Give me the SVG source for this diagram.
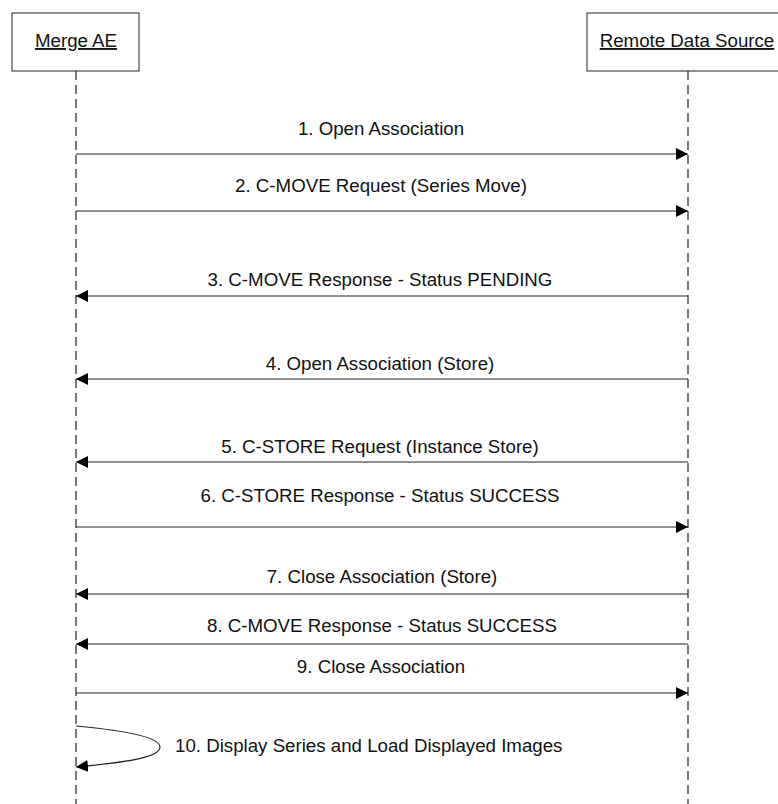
<svg xmlns="http://www.w3.org/2000/svg" width="778" height="804" viewBox="0 0 778 804">
<style>
  .box { fill: #ffffff; stroke: #222222; stroke-width: 1; }
  .life { stroke: #222222; stroke-width: 1.2; stroke-dasharray: 9 5; fill: none; }
  .msg { stroke: #222222; stroke-width: 1.2; fill: none; }
  .t { font-family: "Liberation Sans", Arial, sans-serif; font-size: 18.7px; fill: #111111; }
  .lbl { text-anchor: middle; }
</style>
<defs>
  <marker id="arr" viewBox="0 0 12 12" refX="12" refY="6" markerWidth="12" markerHeight="12" markerUnits="userSpaceOnUse" orient="auto">
    <path d="M0,0 L12,6 L0,12 Z" fill="#000000"/>
  </marker>
</defs>
<rect width="778" height="804" fill="#ffffff"/>
<g id="merge-ae">
  <rect class="box" x="12" y="13" width="127" height="58"/>
  <text class="t lbl" x="76" y="47" text-decoration="underline">Merge AE</text>
  <line class="life" x1="76" y1="71" x2="76" y2="804"/>
</g>
<g id="remote-data-source">
  <rect class="box" x="587" y="13" width="202" height="58"/>
  <text class="t lbl" x="687" y="47" text-decoration="underline">Remote Data Source</text>
  <line class="life" x1="688" y1="71" x2="688" y2="804"/>
</g>
<g id="connectors">
  <line class="msg" x1="76" y1="154" x2="688" y2="154" marker-end="url(#arr)"/>
  <line class="msg" x1="76" y1="211" x2="688" y2="211" marker-end="url(#arr)"/>
  <line class="msg" x1="688" y1="296" x2="76" y2="296" marker-end="url(#arr)"/>
  <line class="msg" x1="688" y1="379" x2="76" y2="379" marker-end="url(#arr)"/>
  <line class="msg" x1="688" y1="462" x2="76" y2="462" marker-end="url(#arr)"/>
  <line class="msg" x1="76" y1="527" x2="688" y2="527" marker-end="url(#arr)"/>
  <line class="msg" x1="688" y1="594" x2="76" y2="594" marker-end="url(#arr)"/>
  <line class="msg" x1="688" y1="644" x2="76" y2="644" marker-end="url(#arr)"/>
  <line class="msg" x1="76" y1="693" x2="688" y2="693" marker-end="url(#arr)"/>
  <path class="msg" d="M76,726 C130,731 160,738 160,747 C160,757 130,762 76,767" marker-end="url(#arr)"/>
</g>
<g id="labels">
  <text class="t lbl" x="381" y="135">1. Open Association</text>
  <text class="t lbl" x="381" y="192">2. C-MOVE Request (Series Move)</text>
  <text class="t lbl" x="380" y="286">3. C-MOVE Response - Status PENDING</text>
  <text class="t lbl" x="380" y="370">4. Open Association (Store)</text>
  <text class="t lbl" x="380" y="453">5. C-STORE Request (Instance Store)</text>
  <text class="t lbl" x="380" y="502">6. C-STORE Response - Status SUCCESS</text>
  <text class="t lbl" x="382" y="583">7. Close Association (Store)</text>
  <text class="t lbl" x="382" y="632">8. C-MOVE Response - Status SUCCESS</text>
  <text class="t lbl" x="381" y="673">9. Close Association</text>
  <text class="t" x="175" y="752">10. Display Series and Load Displayed Images</text>
</g>
</svg>
